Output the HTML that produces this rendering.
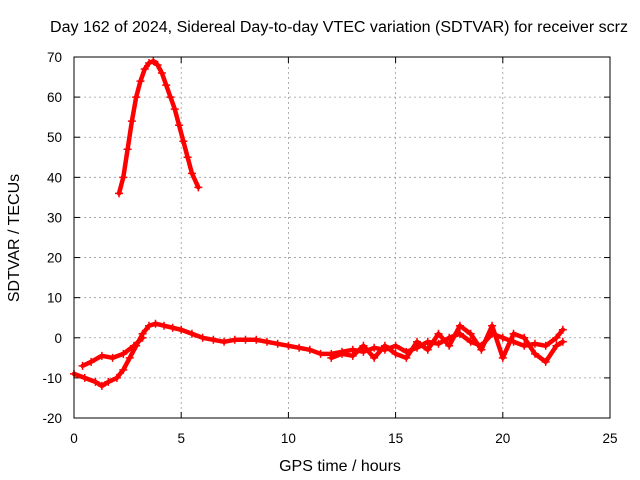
<!DOCTYPE html>
<html><head><meta charset="utf-8"><style>
body{margin:0;background:#fff;}
svg{display:block;font-family:"Liberation Sans",sans-serif;}
</style></head><body>
<svg id="chart" width="640" height="480">
<text x="50" y="32" textLength="578" lengthAdjust="spacingAndGlyphs" font-size="15.5">Day 162 of 2024, Sidereal Day-to-day VTEC variation (SDTVAR) for receiver scrz</text>
<text x="340" y="471" text-anchor="middle" font-size="16">GPS time / hours</text>
<text transform="translate(19,238) rotate(-90)" text-anchor="middle" font-size="16">SDTVAR / TECUs</text>
<g id="grid"></g><g id="ticks"></g><g id="series"></g>
<rect x="74" y="57" width="536" height="361" fill="none" stroke="#000" stroke-width="1"/>
</svg>
<script>
const xTicks=[0,5,10,15,20,25];
const yTicks=[-20,-10,0,10,20,30,40,50,60,70];
const arcX=[2.1,2.3,2.5,2.7,2.9,3.1,3.3,3.5,3.7,3.9,4.1,4.3,4.5,4.7,4.9,5.1,5.3,5.5,5.8];
const arcY=[36,40,47,54,60,64,67,68.5,69,68,66,63,60,57,53,49,45,41,37.5];
const mainX=[0,0.5,1,1.3,1.6,2,2.3,2.6,2.9,3.2,3.5,3.8,4.2,4.6,5,5.5,6,6.5,7,7.5,8,8.5,9,9.5,10,10.5,11,11.5,12,12.5,13,13.5,14,14.5,15,15.5,16,16.5,17,17.5,18,18.5,19,19.5,20,20.5,21,21.5,22,22.5,22.8];
const mainY=[-9,-10,-11,-12,-11,-10,-8,-5,-2,1,3,3.5,3,2.5,2,1,0,-0.5,-1,-0.5,-0.5,-0.5,-1,-1.5,-2,-2.5,-3,-4,-4,-3.5,-3,-3.5,-2.5,-3,-2,-3.5,-2.5,-1,-1.5,0,1,-1,-2,1,0,-1,-2,-1.5,-2,0,2];
const earlyX=[0.4,0.8,1.3,1.8,2.3,2.8,3.2];
const earlyY=[-7,-6,-4.5,-5,-4,-2,0];
const lateX=[12,12.5,13,13.5,14,14.5,15,15.5,16,16.5,17,17.5,18,18.5,19,19.5,20,20.5,21,21.5,22,22.5,22.8];
const lateY=[-5,-4,-4.5,-2,-5,-2,-4,-5,-1,-3,1,-2,3,1,-3,3,-5,1,0,-4,-6,-2,-1];
const X0=74,X1=610,Y0=418,Y1=57;
function sx(v){return X0+(v-0)/(25-0)*(X1-X0);}
function sy(v){return Y0-(v+20)/90*(Y0-Y1);}
const NS="http://www.w3.org/2000/svg";
function mk(tag,attrs,parent){const e=document.createElementNS(NS,tag);for(const k in attrs)e.setAttribute(k,attrs[k]);parent.appendChild(e);return e;}
const grid=document.getElementById('grid'),ticks=document.getElementById('ticks'),ser=document.getElementById('series');
xTicks.forEach(t=>{const x=sx(t);
 if(t>0&&t<25){const g=mk('line',{x1:x,x2:x,y1:Y1,y2:Y0,stroke:'#999','stroke-dasharray':'2,3','stroke-width':0.8},grid);
 
 }
 mk('line',{x1:x,x2:x,y1:Y0,y2:Y0-6,stroke:'#000'},ticks);mk('line',{x1:x,x2:x,y1:Y1,y2:Y1+6,stroke:'#000'},ticks);
 const l=mk('text',{x:x,y:443,'text-anchor':'middle','font-size':13.5},ticks);l.textContent=t;
 
 });
yTicks.forEach(t=>{const y=sy(t);
 if(t>-20&&t<70){const g=mk('line',{x1:X0,x2:X1,y1:y,y2:y,stroke:'#999','stroke-dasharray':'2,3','stroke-width':0.8},grid);
 
 }
 mk('line',{x1:X0,x2:X0+6,y1:y,y2:y,stroke:'#000'},ticks);mk('line',{x1:X1,x2:X1-6,y1:y,y2:y,stroke:'#000'},ticks);
 const l=mk('text',{x:62,y:y+5,'text-anchor':'end','font-size':13.5},ticks);l.textContent=t;
 
 });
function drawSeries(xs,ys,name){
 const pts=xs.map((x,i)=>sx(x)+','+sy(ys[i])).join(' ');
 const p=mk('polyline',{points:pts,fill:'none',stroke:'#f00','stroke-width':4.5,'stroke-linejoin':'round','stroke-linecap':'round'},ser);
 
 
 xs.forEach((x,i)=>{const cx=sx(x),cy=sy(ys[i]);
  const m=mk('path',{d:`M${cx-4},${cy}H${cx+4}M${cx},${cy-4}V${cy+4}`,stroke:'#f00','stroke-width':1.5},ser);
  
  });
}
drawSeries(arcX,arcY,'arc-series');
drawSeries(mainX,mainY,'main-series');
drawSeries(earlyX,earlyY,'early-branch-series');
drawSeries(lateX,lateY,'late-noise-series');
</script>
</body></html>
